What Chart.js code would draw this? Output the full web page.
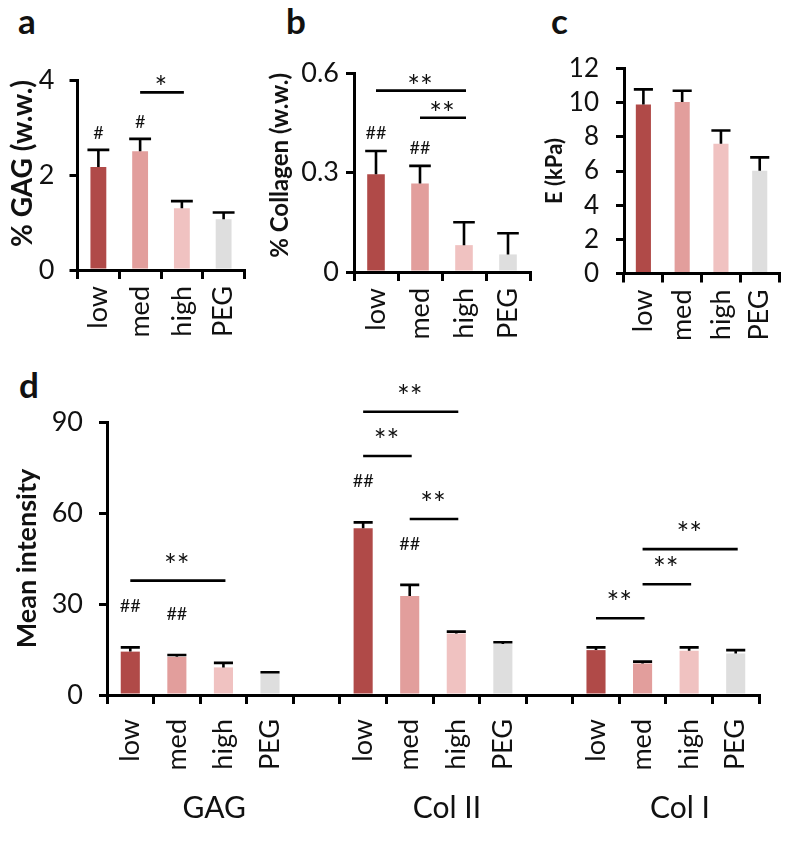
<!DOCTYPE html>
<html>
<head>
<meta charset="utf-8">
<script src="https://cdn.jsdelivr.net/npm/chart.js@4.4.0/dist/chart.umd.min.js"></script>
<style>
  body { margin: 0; background: #fff; width: 800px; height: 845px; position: relative; overflow: hidden; }
  canvas { position: absolute; }
  .tag { position: absolute; font: bold 35px Lato, "Open Sans", sans-serif; line-height: 34px; color: #111; }
</style>
</head>
<body>
<div class="tag" style="left:18px;top:3px">a</div>
<div class="tag" style="left:286px;top:3px">b</div>
<div class="tag" style="left:551px;top:3px">c</div>
<div class="tag" style="left:19px;top:367px">d</div>

<canvas id="chartA" width="270" height="345" style="left:0;top:0"></canvas>
<canvas id="chartB" width="290" height="345" style="left:262px;top:0"></canvas>
<canvas id="chartC" width="270" height="345" style="left:530px;top:0"></canvas>
<canvas id="chartD" width="800" height="500" style="left:0;top:345px"></canvas>

<script>
// groups (same for every panel)
const groups = ['low', 'med', 'high', 'PEG'];
const barColors = ['#b04a48', '#e29e9c', '#f0c2c1', '#dedede'];

// a: % GAG (w.w.)
const gagMean = [2.17, 2.50, 1.30, 1.07];
const gagErr = [0.36, 0.26, 0.15, 0.14];
const gagHash = ['#', '#', '', ''];
const gagTicks = [0, 2, 4];
const gagSig = [[1, 2, 3.74, '*']];

// b: % Collagen (w.w.)
const colMean = [0.295, 0.267, 0.081, 0.053];
const colErr = [0.070, 0.053, 0.069, 0.064];
const colHash = ['##', '##', '', ''];
const colTicks = [0, 0.3, 0.6];
const colSig = [[0, 2, 0.547, '**'], [1, 2, 0.465, '**']];

// c: E (kPa)
const modMean = [9.90, 10.04, 7.59, 6.02];
const modErr = [0.88, 0.66, 0.78, 0.78];
const modTicks = [0, 2, 4, 6, 8, 10, 12];

// d: mean intensity per stain
const stains = ['GAG', 'Col II', 'Col I'];
const intGAG = [14.3, 12.6, 9.1, 7.2];
const intGAGErr = [1.4, 0.6, 1.5, 0.3];
const intColII = [55.0, 32.6, 20.3, 16.8];
const intColIIErr = [1.9, 3.7, 0.6, 0.6];
const intColI = [14.8, 10.4, 14.6, 13.7];
const intColIErr = [0.9, 0.6, 1.1, 1.1];
const intHash = [['##', '##', '', ''], ['##', '##', '', ''], ['', '', '', '']];
const intTicks = [0, 30, 60, 90];
// [from bar, to bar, height, mark] with bars counted across the whole panel
const intSig = [[0, 2, 37.7, '**'], [5, 7, 93.4, '**'], [5, 6, 78.8, '**'], [6, 7, 58.0, '**'],
                [10, 11, 25.3, '**'], [11, 12, 36.5, '**'], [11, 13, 48.1, '**']];

Chart.defaults.font.family = 'Lato, "Open Sans", sans-serif';
Chart.defaults.color = '#111';

// error bars (upper half only), # marks and significance lines
const marks = {
  id: 'marks',
  afterDatasetsDraw(chart, args, o) {
    const ctx = chart.ctx, xs = chart.scales.x, ys = chart.scales.y;
    const vals = chart.data.datasets[0].data;
    ctx.save();
    ctx.strokeStyle = '#000';
    ctx.fillStyle = '#111';
    ctx.lineWidth = 2.6;
    chart.getDatasetMeta(0).data.forEach((bar, i) => {
      if (vals[i] == null) return;
      const top = ys.getPixelForValue(vals[i] + o.err[i]);
      const w = bar.width / 2 + o.capExtra;
      ctx.beginPath();
      ctx.moveTo(bar.x, bar.y);
      ctx.lineTo(bar.x, top);
      ctx.moveTo(bar.x - w, top);
      ctx.lineTo(bar.x + w, top);
      ctx.stroke();
      if (o.hash && o.hash[i]) {
        ctx.font = o.hashFont;
        ctx.textAlign = 'center';
        ctx.textBaseline = 'middle';
        ctx.fillText(o.hash[i], bar.x, top - o.hashGap);
      }
    });
    (o.sig || []).forEach(([a, b, v, txt]) => {
      const x0 = xs.getPixelForValue(a), x1 = xs.getPixelForValue(b), y = ys.getPixelForValue(v);
      ctx.beginPath();
      ctx.moveTo(x0, y);
      ctx.lineTo(x1 + 2, y);
      ctx.stroke();
      ctx.font = o.starFont;
      ctx.textAlign = 'center';
      ctx.textBaseline = 'alphabetic';
      ctx.fillText(txt, (x0 + x1) / 2, y - o.starGap);
    });
    if (o.groups) {
      ctx.font = '30px Lato, "Open Sans", sans-serif';
      ctx.textAlign = 'center';
      ctx.textBaseline = 'middle';
      o.groups.forEach((g, k) => ctx.fillText(g, xs.getPixelForValue(k * 5 + 1.5) + 14, o.groupY));
    }
    ctx.restore();
  }
};

function makeChart(id, labels, values, colors, o) {
  return new Chart(document.getElementById(id), {
    type: 'bar',
    data: {
      labels: labels,
      datasets: [{ data: values, backgroundColor: colors, barPercentage: o.barPct, categoryPercentage: 1 }]
    },
    options: {
      responsive: false,
      animation: false,
      layout: { padding: o.pad },
      plugins: { legend: { display: false }, tooltip: { enabled: false }, marks: o.marks },
      scales: {
        x: {
          grid: { drawOnChartArea: false, tickLength: 9, color: '#000', lineWidth: 3, offset: true },
          border: { color: '#000', width: 3 },
          ticks: { font: { size: 27 }, color: '#111', minRotation: 90, maxRotation: 90, padding: o.xPad, autoSkip: false },
          afterFit: s => { s.height = o.xH; }
        },
        y: {
          min: 0, max: o.ticks[o.ticks.length - 1],
          afterBuildTicks: s => { s.ticks = o.ticks.map(v => ({ value: v })); },
          grid: { drawOnChartArea: false, tickLength: 8, color: '#000', lineWidth: 3 },
          border: { color: '#000', width: 3 },
          ticks: { font: { size: o.yFont || 27 }, color: '#111', padding: o.yPad, autoSkip: false },
          title: {
            display: true, text: o.title, color: '#111', align: o.titleAlign,
            font: { size: o.titleSize, weight: 'bold' }, padding: { top: o.titlePad, bottom: 0 }
          },
          afterFit: s => { s.width = o.yW; }
        }
      }
    },
    plugins: [marks]
  });
}

makeChart('chartA', groups, gagMean, barColors, {
  barPct: 0.38, pad: { left: 0, top: 80, right: 25.5, bottom: 0 }, xH: 75, yW: 77.5, xPad: 7, yPad: 15,
  ticks: gagTicks, title: '% GAG (w.w.)', titleSize: 28, titlePad: 6, titleAlign: 'end',
  marks: { err: gagErr, capExtra: 3, hash: gagHash, hashFont: '18px Lato, sans-serif', hashGap: 17,
           sig: gagSig, starFont: '30px Lato, sans-serif', starGap: -6 }
});

makeChart('chartB', groups, colMean, barColors, {
  barPct: 0.40, pad: { left: 0, top: 73, right: 22, bottom: 0 }, xH: 73, yW: 92, xPad: 7, yPad: 7,
  ticks: colTicks, title: '% Collagen (w.w.)', titleSize: 24, titlePad: 4, titleAlign: 'end',
  marks: { err: colErr, capExtra: 2, hash: colHash, hashFont: '18px Lato, sans-serif', hashGap: 18,
           sig: colSig, starFont: '30px Lato, sans-serif', starGap: -6 }
});

makeChart('chartC', groups, modMean, barColors, {
  barPct: 0.39, pad: { left: 0, top: 68.5, right: 7, bottom: 0 }, xH: 71.5, yW: 94, xPad: 7, yPad: 17,
  ticks: modTicks, yFont: 26, title: 'E (kPa)', titleSize: 22, titlePad: 12, titleAlign: 'center',
  marks: { err: modErr, capExtra: 2 }
});

// panel d: four bars per stain with an empty slot between stains
const dLabels = [], dVals = [], dErr = [], dColors = [], dHash = [];
[intGAG, intColII, intColI].forEach((vals, k) => {
  const errs = [intGAGErr, intColIIErr, intColIErr][k];
  if (k > 0) { dLabels.push(''); dVals.push(null); dErr.push(0); dColors.push('#fff'); dHash.push(''); }
  vals.forEach((v, i) => {
    dLabels.push(groups[i]); dVals.push(v); dErr.push(errs[i]); dColors.push(barColors[i]); dHash.push(intHash[k][i]);
  });
});

makeChart('chartD', dLabels, dVals, dColors, {
  barPct: 0.41, pad: { left: 0, top: 77, right: 41, bottom: 0 }, xH: 150, yW: 107, xPad: 15, yPad: 16,
  ticks: intTicks, title: 'Mean intensity', titleSize: 27, titlePad: 11, titleAlign: 'center',
  marks: { err: dErr, capExtra: 0, hash: dHash, hashFont: '18px Lato, sans-serif', hashGap: 41,
           sig: intSig, starFont: '30px Lato, sans-serif', starGap: 5, groups: stains, groupY: 463 }
});
</script>
</body>
</html>
